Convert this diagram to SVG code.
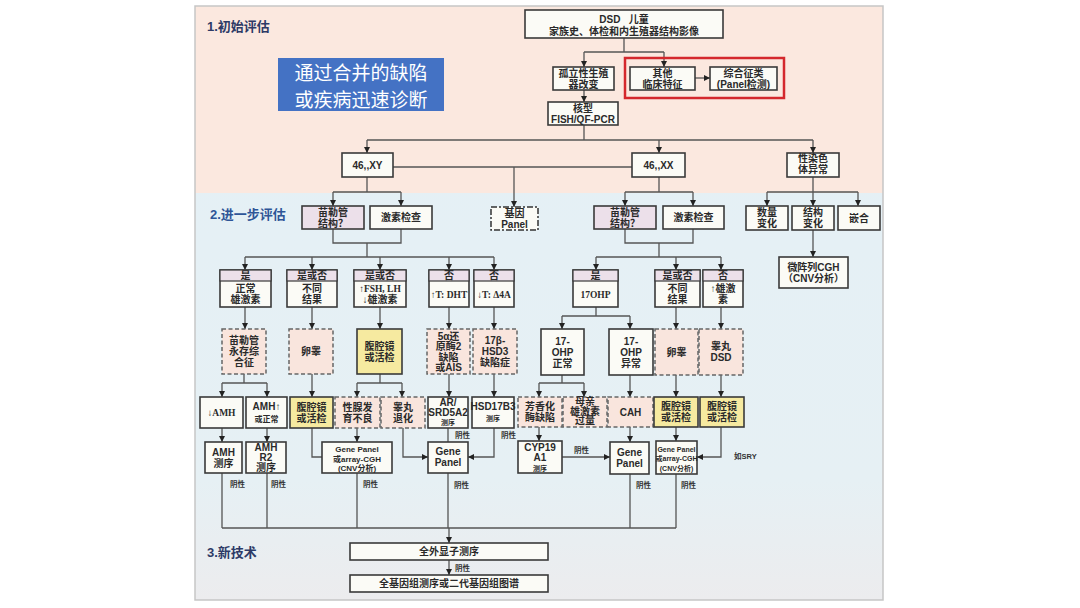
<svg xmlns="http://www.w3.org/2000/svg" width="1080" height="608" viewBox="0 0 1080 608">
<defs>
<linearGradient id="bg2" x1="0" y1="0" x2="0" y2="1">
<stop offset="0" stop-color="#e4f0f6"/>
<stop offset="0.8" stop-color="#e6f0f4"/>
<stop offset="1" stop-color="#ececee"/>
</linearGradient>
<marker id="ar" viewBox="0 0 10 10" refX="10" refY="5" markerWidth="6" markerHeight="6" markerUnits="userSpaceOnUse" orient="auto">
<path d="M0,0 L10,5 L0,10 z" fill="#222"/>
</marker>
<style>
.n{fill:#fbfbf6;stroke:#3a3a3a;stroke-width:1.6}
.dh{fill:#f9e5dd;stroke:#666;stroke-width:1.5;stroke-dasharray:4 2.5}
.yl{fill:#f6eaa0;stroke:#3a3a3a;stroke-width:1.6}
.li{fill:#ece0ea;stroke:#3a3a3a;stroke-width:1.6}
.hd{fill:#ece0ea;stroke:#3a3a3a;stroke-width:1.2}
.t{font-family:"Liberation Sans","Noto Sans CJK SC",sans-serif;font-size:10px;font-weight:bold;fill:#2a2a2a;text-anchor:middle}
.sr{font-family:"Liberation Serif","Noto Sans CJK SC",serif;font-size:9.5px;font-weight:bold;fill:#2a2a2a;text-anchor:middle}
.s{font-size:8px}
.xs{font-size:7px}
.l{font-family:"Liberation Sans","Noto Sans CJK SC",sans-serif;font-size:7.5px;font-weight:bold;fill:#333;text-anchor:start}
.c{stroke:#555;stroke-width:1.3;fill:none}
.ca{stroke:#555;stroke-width:1.3;fill:none;marker-end:url(#ar)}
.sec{font-family:"Liberation Sans","Noto Sans CJK SC",sans-serif;font-size:13px;font-weight:bold}
.bn{font-family:"Noto Sans CJK SC",sans-serif;font-size:19px;fill:#ffffff;text-anchor:middle}
</style>
</defs>
<rect x="0" y="0" width="1080" height="608" fill="#ffffff"/>
<rect x="195" y="6" width="688" height="594" fill="url(#bg2)"/>
<rect x="195" y="6" width="688" height="187" fill="#fbe8df"/>
<rect x="195" y="6" width="688" height="594" fill="none" stroke="#c6c6c6" stroke-width="1.5"/>

<g id="section-labels">
<text class="sec" x="207" y="31" fill="#2d3a66">1.初始评估</text>
<text class="sec" x="210" y="219" fill="#2e5597">2.进一步评估</text>
<text class="sec" x="207" y="557" fill="#2d3a66">3.新技术</text>
</g>

<g id="banner">
<rect x="278" y="58" width="166" height="53" fill="#4472c4"/>
<text class="bn" x="361" y="79.5">通过合并的缺陷</text>
<text class="bn" x="361" y="107">或疾病迅速诊断</text>
</g>

<g id="connectors">
<path class="c" d="M624,38 V52 M584,52 H664"/>
<path class="ca" d="M584,52 V67"/>
<path class="ca" d="M664,52 V67"/>
<path class="ca" d="M695,78 H710"/>
<path class="ca" d="M584,90 V102"/>
<path class="c" d="M584,125 V140 M367,140 H813"/>
<path class="ca" d="M367,140 V153"/>
<path class="ca" d="M659,140 V153"/>
<path class="ca" d="M813,140 V153"/>
<path class="c" d="M393,167 H632"/>
<path class="ca" d="M514,167 V207"/>
<!-- XY -->
<path class="c" d="M367,177 V192 M333,192 H401"/>
<path class="ca" d="M333,192 V206"/>
<path class="ca" d="M401,192 V206"/>
<path class="c" d="M333,229 V243 H401 V229 M367,243 V257 M245,257 H494"/>
<path class="ca" d="M245,257 V270"/>
<path class="ca" d="M312,257 V270"/>
<path class="ca" d="M380,257 V270"/>
<path class="ca" d="M449,257 V270"/>
<path class="ca" d="M494,257 V270"/>
<path class="ca" d="M245,307 V329"/>
<path class="ca" d="M312,307 V329"/>
<path class="ca" d="M380,307 V329"/>
<path class="ca" d="M449,307 V329"/>
<path class="ca" d="M494,307 V329"/>
<path class="c" d="M244,374 V383 M222,383 H267"/>
<path class="ca" d="M222,383 V397"/>
<path class="ca" d="M267,383 V397"/>
<path class="ca" d="M312,374 V397"/>
<path class="c" d="M380,374 V383 M357,383 H402"/>
<path class="ca" d="M357,383 V397"/>
<path class="ca" d="M402,383 V397"/>
<path class="ca" d="M449,374 V397"/>
<path class="ca" d="M494,374 V397"/>
<path class="ca" d="M222,428 V442"/>
<path class="ca" d="M267,428 V442"/>
<path class="c" d="M312,428 V457 H322"/>
<path class="ca" d="M357,428 V442"/>
<path class="ca" d="M403,428 V457 H428"/>
<path class="c" d="M448,428 V442"/>
<path class="ca" d="M494,428 V457 H468"/>
<!-- XX -->
<path class="c" d="M659,177 V192 M625,192 H693"/>
<path class="ca" d="M625,192 V206"/>
<path class="ca" d="M693,192 V206"/>
<path class="c" d="M625,229 V243 H693 V229 M659,243 V257 M596,257 H721"/>
<path class="ca" d="M596,257 V270"/>
<path class="ca" d="M676,257 V270"/>
<path class="ca" d="M721,257 V270"/>
<path class="c" d="M596,307 V316 M562,316 H630"/>
<path class="ca" d="M562,316 V329"/>
<path class="ca" d="M630,316 V329"/>
<path class="ca" d="M676,307 V329"/>
<path class="ca" d="M721,307 V329"/>
<path class="c" d="M562,375 V383 M539,383 H584"/>
<path class="ca" d="M539,383 V397"/>
<path class="ca" d="M584,383 V397"/>
<path class="ca" d="M630,375 V397"/>
<path class="ca" d="M676,375 V397"/>
<path class="ca" d="M721,375 V397"/>
<path class="ca" d="M539,427 V441"/>
<path class="ca" d="M562,457 H610"/>
<path class="ca" d="M630,427 V442"/>
<path class="ca" d="M676,427 V441"/>
<path class="ca" d="M721,427 V457 H697"/>
<!-- sex chromosome -->
<path class="c" d="M813,177 V192 M767,192 H858"/>
<path class="ca" d="M767,192 V206"/>
<path class="ca" d="M813,192 V206"/>
<path class="ca" d="M858,192 V206"/>
<path class="ca" d="M813,230 V257"/>
<!-- bottom -->
<path class="c" d="M222,473 V528 M267,473 V528 M357,473 V528 M448,473 V528 M630,474 V528 M676,474 V528 M222,528 H676"/>
<path class="ca" d="M449,528 V543"/>
<path class="ca" d="M449,560 V575"/>
</g>

<g id="labels">
<text class="l" x="455" y="438">阴性</text>
<text class="l" x="501" y="438">阴性</text>
<text class="l" x="230" y="487">阴性</text>
<text class="l" x="271" y="487">阴性</text>
<text class="l" x="363" y="487">阴性</text>
<text class="l" x="454" y="488">阴性</text>
<text class="l" x="574" y="453">阴性</text>
<text class="l" x="636" y="488">阴性</text>
<text class="l" x="681" y="488">阴性</text>
<text class="l" x="734" y="459">如SRY</text>
<text class="l" x="455" y="571">阴性</text>
</g>

<g id="n-dsd"><rect class="n" x="525" y="10" width="198" height="28"/>
<text class="t" x="624" y="23" font-size="12" style="white-space:pre">DSD   儿童</text>
<text class="t" x="624" y="34.5">家族史、体检和内生殖器结构影像</text></g>
<g id="n-isolated"><rect class="n" x="553" y="67" width="61" height="23"/>
<text class="t" x="583.5" y="76.8">孤立性生殖</text><text class="t" x="583.5" y="87.8">器改变</text></g>
<g id="n-redframe"><rect x="625" y="58" width="159" height="40" fill="none" stroke="#d4282d" stroke-width="2.5"/></g>
<g id="n-other"><rect class="n" x="630" y="67" width="65" height="23"/>
<text class="t" x="662.5" y="76.8">其他</text><text class="t" x="662.5" y="87.8">临床特征</text></g>
<g id="n-synd"><rect class="n" x="710" y="67" width="67" height="23"/>
<text class="t" x="743.5" y="76.8">综合征类</text><text class="t" x="743.5" y="87.8">(Panel检测)</text></g>
<g id="n-karyo"><rect class="n" x="548" y="102" width="70" height="23"/>
<text class="t" x="583" y="111.8">核型</text><text class="t" x="583" y="122.8" font-size="9.5">FISH/QF-PCR</text></g>

<g id="n-xy"><rect class="n" x="342" y="153" width="51" height="24"/><text class="t" x="367.5" y="168.8">46,,XY</text></g>
<g id="n-xx"><rect class="n" x="632" y="153" width="53" height="24"/><text class="t" x="658.5" y="168.8">46,,XX</text></g>
<g id="n-sexchr"><rect class="n" x="787" y="153" width="52" height="24"/>
<text class="t" x="813" y="161.8">性染色</text><text class="t" x="813" y="172.8">体异常</text></g>
<g id="n-genepanel"><rect x="491" y="207" width="47" height="23" fill="#fbfbf6" stroke="#333" stroke-width="1.5" stroke-dasharray="6 2 2 2"/>
<text class="t" x="514.5" y="216.8">基因</text><text class="t" x="514.5" y="227.8">Panel</text></g>

<g id="n-muller-xy"><rect class="li" x="302" y="206" width="62" height="23"/>
<text class="t" x="333" y="215.8">苗勒管</text><text class="t" x="333" y="226.8">结构？</text></g>
<g id="n-horm-xy"><rect class="n" x="370" y="206" width="62" height="23"/><text class="t" x="401" y="221.3">激素检查</text></g>
<g id="n-muller-xx"><rect class="li" x="594" y="206" width="62" height="23"/>
<text class="t" x="625" y="215.8">苗勒管</text><text class="t" x="625" y="226.8">结构？</text></g>
<g id="n-horm-xx"><rect class="n" x="663" y="206" width="61" height="23"/><text class="t" x="693.5" y="221.3">激素检查</text></g>

<g id="n-num"><rect class="n" x="746" y="206" width="42" height="24"/>
<text class="t" x="767" y="216.3">数量</text><text class="t" x="767" y="227.3">变化</text></g>
<g id="n-struct"><rect class="n" x="792" y="206" width="42" height="24"/>
<text class="t" x="813" y="216.3">结构</text><text class="t" x="813" y="227.3">变化</text></g>
<g id="n-mosaic"><rect class="n" x="838" y="206" width="42" height="24"/><text class="t" x="859" y="221.8">嵌合</text></g>
<g id="n-cgh"><rect class="n" x="779" y="257" width="69" height="31"/>
<text class="t" x="813.5" y="270.8">微阵列CGH</text><text class="t" x="813.5" y="281.8">（CNV分析）</text></g>

<!-- XY results -->
<g id="n-r1"><rect class="n" x="220" y="270" width="51" height="37"/><rect class="hd" x="220" y="270" width="51" height="11"/>
<text class="t" x="245.5" y="279" font-size="9.5">是</text><text class="t" x="245.5" y="292">正常</text><text class="t" x="245.5" y="303">雄激素</text></g>
<g id="n-r2"><rect class="n" x="287" y="270" width="50" height="37"/><rect class="hd" x="287" y="270" width="50" height="11"/>
<text class="t" x="312" y="279" font-size="9.5">是或否</text><text class="t" x="312" y="292">不同</text><text class="t" x="312" y="303">结果</text></g>
<g id="n-r3"><rect class="n" x="354" y="270" width="52" height="37"/><rect class="hd" x="354" y="270" width="52" height="11"/>
<text class="t" x="380" y="279" font-size="9.5">是或否</text><text class="sr" x="380" y="292">↑FSH, LH</text><text class="t" x="380" y="303">↓雄激素</text></g>
<g id="n-r4"><rect class="n" x="429" y="270" width="40" height="37"/><rect class="hd" x="429" y="270" width="40" height="11"/>
<text class="t" x="449" y="279" font-size="9.5">否</text><text class="sr" x="449" y="297.8" font-size="8.5">↑T: DHT</text></g>
<g id="n-r5"><rect class="n" x="474" y="270" width="40" height="37"/><rect class="hd" x="474" y="270" width="40" height="11"/>
<text class="t" x="494" y="279" font-size="9.5">否</text><text class="sr" x="494" y="297.8" font-size="8.5">↓T: Δ4A</text></g>

<g id="n-pmds"><rect class="dh" x="222" y="329" width="44" height="45"/>
<text class="t" x="244" y="344.3">苗勒管</text><text class="t" x="244" y="355.3">永存综</text><text class="t" x="244" y="366.3">合征</text></g>
<g id="n-ovotestis-xy"><rect class="dh" x="289" y="329" width="44" height="45"/><text class="t" x="311" y="355.3">卵睾</text></g>
<g id="n-lap1"><rect class="yl" x="357" y="329" width="45" height="45"/>
<text class="t" x="379.5" y="349.8">腹腔镜</text><text class="t" x="379.5" y="360.8">或活检</text></g>
<g id="n-5ar"><rect class="dh" x="427" y="329" width="43" height="45"/>
<text class="t" x="448.5" y="339.5">5α还</text><text class="t" x="448.5" y="350">原酶2</text><text class="t" x="448.5" y="360.5">缺陷</text><text class="t" x="448.5" y="371">或AIS</text></g>
<g id="n-17b"><rect class="dh" x="473" y="329" width="44" height="45"/>
<text class="t" x="495" y="344.3">17β-</text><text class="t" x="495" y="355.3">HSD3</text><text class="t" x="495" y="366.3">缺陷症</text></g>

<g id="n-amhdown"><rect class="n" x="200" y="397" width="43" height="31"/><text class="sr" x="221.5" y="416">↓AMH</text></g>
<g id="n-amhup"><rect class="n" x="246" y="397" width="41" height="31"/>
<text class="t" x="266.5" y="410.3" font-size="9">AMH↑</text><text class="t s" x="266.5" y="421.5">或正常</text></g>
<g id="n-lap2"><rect class="yl" x="290" y="397" width="43" height="31"/>
<text class="t" x="311.5" y="410.8">腹腔镜</text><text class="t" x="311.5" y="421.8">或活检</text></g>
<g id="n-gonad"><rect class="dh" x="335" y="397" width="45" height="31"/>
<text class="t" x="357.5" y="410.8">性腺发</text><text class="t" x="357.5" y="421.8">育不良</text></g>
<g id="n-regress"><rect class="dh" x="381" y="397" width="44" height="31"/>
<text class="t" x="403" y="410.8">睾丸</text><text class="t" x="403" y="421.8">退化</text></g>
<g id="n-ar"><rect class="n" x="428" y="397" width="40" height="31"/>
<text class="t" x="448" y="406.3" font-size="8.5">AR/</text><text class="t" x="448" y="415.8" font-size="7.5">SRD5A2</text><text class="t xs" x="448" y="424.8">测序</text></g>
<g id="n-hsd"><rect class="n" x="472" y="397" width="42" height="31"/>
<text class="t" x="493" y="410.3" font-size="7.5">HSD17B3</text><text class="t xs" x="493" y="421">测序</text></g>

<g id="n-amhseq"><rect class="n" x="205" y="442" width="37" height="31"/>
<text class="t" x="223.5" y="455.8">AMH</text><text class="t" x="223.5" y="466.8">测序</text></g>
<g id="n-amhr2"><rect class="n" x="246" y="442" width="40" height="31"/>
<text class="t" x="266" y="451.3" font-size="9.5">AMH</text><text class="t" x="266" y="461" font-size="9.5">R2</text><text class="t" x="266" y="470.5" font-size="9.5">测序</text></g>
<g id="n-gpcnv1"><rect class="n" x="322" y="442" width="70" height="31"/>
<text class="t s" x="357" y="452">Gene Panel</text><text class="t s" x="357" y="461.5">或array-CGH</text><text class="t s" x="357" y="471">(CNV分析)</text></g>
<g id="n-gp1"><rect class="n" x="428" y="442" width="40" height="31"/>
<text class="t" x="448" y="455.3" font-size="9">Gene</text><text class="t" x="448" y="466.3" font-size="9">Panel</text></g>

<!-- XX results -->
<g id="n-r6"><rect class="n" x="573" y="270" width="45" height="37"/><rect class="hd" x="573" y="270" width="45" height="11"/>
<text class="t" x="595.5" y="279" font-size="9.5">是</text><text class="sr" x="595.5" y="297.8">17OHP</text></g>
<g id="n-r7"><rect class="n" x="655" y="270" width="45" height="37"/><rect class="hd" x="655" y="270" width="45" height="11"/>
<text class="t" x="677.5" y="279" font-size="9.5">是或否</text><text class="t" x="677.5" y="292">不同</text><text class="t" x="677.5" y="303">结果</text></g>
<g id="n-r8"><rect class="n" x="703" y="270" width="40" height="37"/><rect class="hd" x="703" y="270" width="40" height="11"/>
<text class="t" x="723" y="279" font-size="9.5">否</text><text class="t" x="723" y="292">↑雄激</text><text class="t" x="723" y="303">素</text></g>

<g id="n-ohpn"><rect class="n" x="541" y="329" width="43" height="46"/>
<text class="t" x="562.5" y="344.8">17-</text><text class="t" x="562.5" y="355.8">OHP</text><text class="t" x="562.5" y="366.8">正常</text></g>
<g id="n-ohpa"><rect class="n" x="609" y="329" width="44" height="46"/>
<text class="t" x="631" y="344.8">17-</text><text class="t" x="631" y="355.8">OHP</text><text class="t" x="631" y="366.8">异常</text></g>
<g id="n-ovotestis-xx"><rect class="dh" x="655" y="329" width="43" height="46"/><text class="t" x="676.5" y="355.8">卵睾</text></g>
<g id="n-testdsd"><rect class="dh" x="699" y="329" width="44" height="46"/>
<text class="t" x="721" y="350.3">睾丸</text><text class="t" x="721" y="361.3">DSD</text></g>

<g id="n-arom"><rect class="dh" x="518" y="397" width="44" height="30"/>
<text class="t" x="540" y="410.3">芳香化</text><text class="t" x="540" y="421.3">酶缺陷</text></g>
<g id="n-maternal"><rect class="dh" x="563" y="397" width="44" height="30"/>
<text class="t" x="585" y="405.3" font-size="8.5">母亲</text><text class="t" x="585" y="414.8" font-size="8.5">雄激素</text><text class="t" x="585" y="424.3" font-size="8.5">过量</text></g>
<g id="n-cah"><rect class="dh" x="608" y="397" width="45" height="30"/><text class="t" x="630.5" y="416" font-size="11">CAH</text></g>
<g id="n-lap3"><rect class="yl" x="654" y="397" width="44" height="30"/>
<text class="t" x="676" y="410.3">腹腔镜</text><text class="t" x="676" y="421.3">或活检</text></g>
<g id="n-lap4"><rect class="yl" x="700" y="397" width="44" height="30"/>
<text class="t" x="722" y="410.3">腹腔镜</text><text class="t" x="722" y="421.3">或活检</text></g>

<g id="n-cyp"><rect class="n" x="518" y="441" width="44" height="32"/>
<text class="t" x="540" y="451" font-size="9">CYP19</text><text class="t" x="540" y="461" font-size="9">A1</text><text class="t xs" x="540" y="470.5">测序</text></g>
<g id="n-gp2"><rect class="n" x="610" y="442" width="39" height="32"/>
<text class="t" x="629.5" y="455.8" font-size="9">Gene</text><text class="t" x="629.5" y="466.8" font-size="9">Panel</text></g>
<g id="n-gpcnv2"><rect class="n" x="656" y="441" width="41" height="33"/>
<text class="t xs" x="676.5" y="451.5">Gene Panel</text><text class="t xs" x="676.5" y="461">或array-CGH</text><text class="t xs" x="676.5" y="470.5">(CNV分析)</text></g>

<g id="n-wes"><rect class="n" x="350" y="543" width="198" height="17"/><text class="t" x="449" y="555.3">全外显子测序</text></g>
<g id="n-wgs"><rect class="n" x="350" y="575" width="198" height="17"/><text class="t" x="449" y="587.3">全基因组测序或二代基因组图谱</text></g>
</svg>
